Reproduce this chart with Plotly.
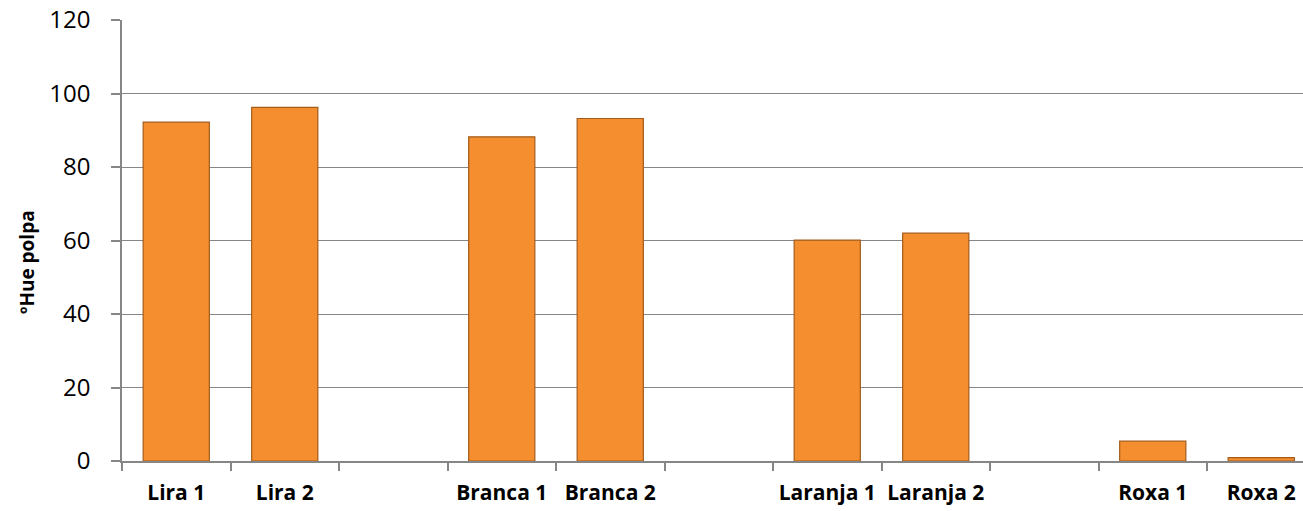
import plotly.graph_objects as go

categories = ["Lira 1", "Lira 2", " ", "Branca 1", "Branca 2", "  ",
              "Laranja 1", "Laranja 2", "   ", "Roxa 1", "Roxa 2"]
values = [92.2, 96.2, None, 88.2, 93.2, None, 60.1, 62.0, None, 5.4, 0.9]
y_ticks = [0, 20, 40, 60, 80, 100, 120]

W, H = 1303, 511
L, R, T, B = 122, 0, 20, 50
plot_w = W - L - R
plot_h = H - T - B
cat_w = 108.5
x_end = -0.5 + plot_w / cat_w

fig = go.Figure()
fig.add_trace(go.Bar(
    x=categories, y=values,
    width=0.61,
    marker=dict(color="#F48E2E", line=dict(color="#A35C1C", width=1.2)),
    hoverinfo="x+y",
))

grid = "#868686"
fig.update_layout(
    width=W, height=H,
    margin=dict(l=L, r=R, t=T, b=B),
    paper_bgcolor="white", plot_bgcolor="white",
    showlegend=False,
    font=dict(family="'Open Sans', sans-serif", color="black"),
    xaxis=dict(
        type="category", range=[-0.5, x_end],
        tickson="boundaries", ticks="outside", ticklen=8, tickwidth=1.5,
        tickcolor=grid, showline=True, linecolor=grid, linewidth=1.5,
        showgrid=False, ticklabelstandoff=12,
        tickfont=dict(size=21, family="Open Sans", weight="bold", color="black"),
    ),
    yaxis=dict(
        range=[0, 120], tickvals=y_ticks, ticks="outside", ticklen=9,
        tickwidth=1.5, tickcolor=grid, showline=True, linecolor=grid,
        linewidth=1.5, showgrid=True, gridcolor=grid, gridwidth=1.2,
        zeroline=False, ticklabelstandoff=16,
        tickfont=dict(size=24, family="Open Sans", color="black"),
    ),
    annotations=[dict(
        text="ºHue polpa", textangle=-90, xref="paper", yref="paper",
        x=-(L - 27) / plot_w, y=(461 - 262) / plot_h,
        xanchor="center", yanchor="middle",
        showarrow=False,
        font=dict(size=19, family="Open Sans", weight="bold", color="black"),
    )],
)

fig.write_html("out.html")
